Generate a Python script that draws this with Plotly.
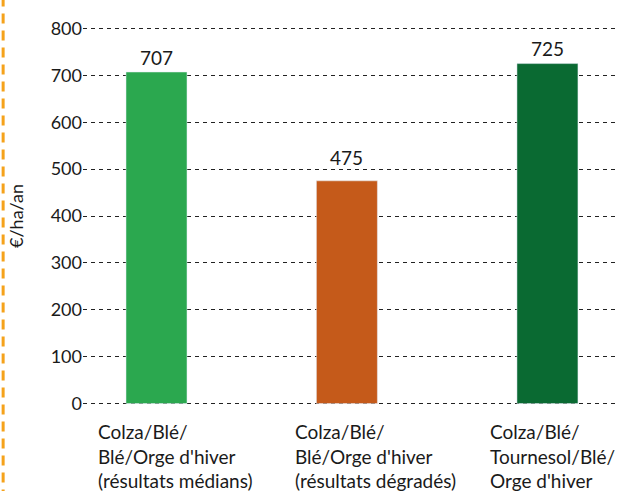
import plotly.graph_objects as go

categories = ["Colza/Blé/<br>Blé/Orge d'hiver<br>(résultats médians)",
              "Colza/Blé/<br>Blé/Orge d'hiver<br>(résultats dégradés)",
              "Colza/Blé/<br>Tournesol/Blé/<br>Orge d'hiver"]
values = [707, 475, 725]
colors = ["#2BA84F", "#C55A1A", "#0A6A32"]
yticks = [0, 100, 200, 300, 400, 500, 600, 700, 800]

FONT = "Lato"
xs = [0, 1, 2]
BAR_W = 0.312
bar_offset = [-0.156, -0.182, -0.156]
label_yshift = [15, 23, 15]
label_xshift = [0, -5, 0]
cat_xshift = [-61, -59, -59]

fig = go.Figure()
fig.add_trace(go.Bar(
    x=xs, y=values, marker_color=colors, width=BAR_W, offset=bar_offset,
    cliponaxis=False, hoverinfo="skip"))

for i, v in enumerate(values):
    fig.add_annotation(x=xs[i], y=v, xref="x", yref="y", text=str(v),
                       showarrow=False, xanchor="center", yanchor="middle",
                       yshift=label_yshift[i], xshift=label_xshift[i],
                       font=dict(family=FONT, size=19, color="#1a1a1a"))

for i, c in enumerate(categories):
    fig.add_annotation(x=xs[i], y=0, xref="x", yref="y", text=c,
                       showarrow=False, xanchor="left", yanchor="top",
                       align="left", xshift=cat_xshift[i], yshift=-14,
                       font=dict(family=FONT, size=19, color="#1a1a1a"))

fig.add_shape(type="line", xref="paper", yref="paper",
              x0=-0.149, x1=-0.149, y0=-0.25, y1=1.08,
              line=dict(color="#F5A21B", width=3, dash="10px,7px"))

fig.update_layout(
    width=619, height=491,
    margin=dict(l=83, r=0, t=27, b=86),
    plot_bgcolor="white", paper_bgcolor="white",
    showlegend=False,
    xaxis=dict(range=[-0.376, 2.366], showticklabels=False, showgrid=False,
               zeroline=False, showline=False, fixedrange=True),
    yaxis=dict(range=[-3, 803], tickvals=yticks, showgrid=True,
               gridcolor="#222222", gridwidth=1, griddash="4px,4px",
               zeroline=False, showline=False, ticks="", ticklen=0,
               tickfont=dict(family=FONT, size=18, color="#1a1a1a"),
               title=dict(text="€/ha/an", standoff=22,
                          font=dict(family=FONT, size=18, color="#1a1a1a"))),
)
fig.write_html("out.html")
